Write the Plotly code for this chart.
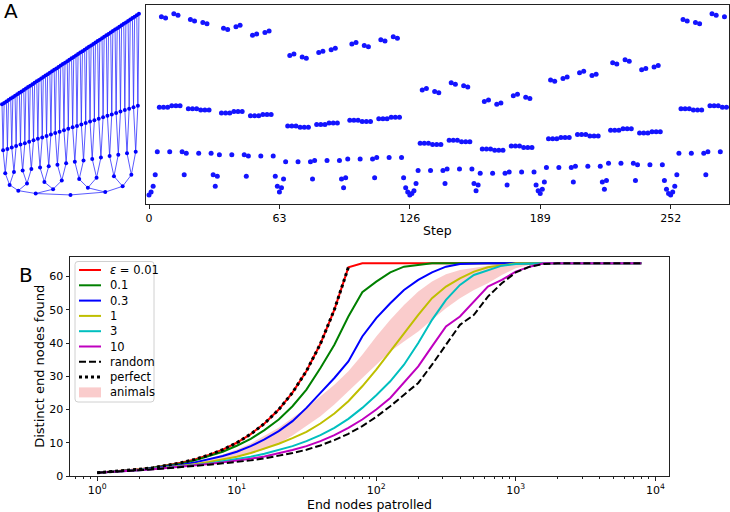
import plotly.graph_objects as go

# ----- PANEL A: binary tree (depth 6) and the patrol walk over it -----
depth = 6
# leaves (heap numbering: root = 1, leaves 64..127) in the order the walk reaches them
leaf_order = [125, 124, 127, 126, 123, 122, 121, 120,
              117, 116, 118, 119, 112, 113, 114, 115,
              98, 99, 97, 96, 100, 101, 102, 103,
              106, 107, 105, 104, 109, 108, 111, 110,
              74, 75, 73, 72, 79, 78, 77, 76,
              66, 67, 64, 65, 70, 71, 69, 68,
              81, 80, 82, 83, 86, 87, 84, 85,
              93, 92, 95, 94, 88, 89, 90, 91,
              123, 122, 121, 120, 127, 126, 125]
walk_end = 62
step_ticks = [0, 63, 126, 189, 252]

# ----- PANEL B: distinct end nodes found vs end nodes patrolled -----
x_patrolled = [1, 1.26, 1.58, 2.0, 2.51, 3.16, 3.98, 5.01, 6.31, 7.94,
               10.0, 12.6, 15.8, 20.0, 25.1, 31.6, 39.8, 50.1, 63.1, 79.4,
               100, 126, 158, 200, 251, 316, 398, 501, 631, 794,
               1000, 1259, 1585, 1995, 2512, 3162, 3981, 5012, 6310, 7943]

eps_labels = ["<i>ε</i> = 0.01", "0.1", "0.3", "1", "3", "10"]
eps_colors = ["#ff0000", "#008000", "#0000ff", "#bfbf00", "#00bfbf", "#bf00bf"]

found_eps_001 = [1, 1.26, 1.58, 2.0, 2.51, 3.16, 3.98, 5.01, 6.31, 7.94,
                 10.0, 12.6, 15.8, 20.0, 25.1, 31.6, 39.8, 50.1, 62.8, 64,
                 64, 64, 64, 64, 64, 64, 64, 64, 64, 64,
                 64, 64, 64, 64, 64, 64, 64, 64, 64, 64]
found_eps_01 = [1, 1.25, 1.56, 1.95, 2.45, 3.05, 3.8, 4.7, 5.9, 7.3,
                9.1, 11.2, 13.8, 17.0, 21.0, 26.0, 32.5, 39.5, 48.0, 55.3,
                58.5, 61.3, 63.0, 63.6, 64, 64, 64, 64, 64, 64,
                64, 64, 64, 64, 64, 64, 64, 64, 64, 64]
found_eps_03 = [1, 1.24, 1.53, 1.88, 2.3, 2.8, 3.4, 4.1, 4.95, 6.0,
                7.3, 9.0, 11.0, 13.5, 16.5, 20.5, 25.0, 29.5, 34.5, 42.0,
                47.5, 52.0, 56.0, 59.0, 61.3, 63.0, 63.8, 64, 64, 64,
                64, 64, 64, 64, 64, 64, 64, 64, 64, 64]
found_eps_1 = [1, 1.22, 1.5, 1.8, 2.15, 2.55, 3.0, 3.55, 4.2, 4.95,
               5.8, 6.9, 8.2, 9.7, 11.4, 13.3, 15.8, 18.8, 22.5, 27.0,
               32.0, 37.5, 43.0, 48.5, 53.5, 57.0, 59.5, 61.5, 62.8, 63.5,
               64, 64, 64, 64, 64, 64, 64, 64, 64, 64]
found_eps_3 = [1, 1.2, 1.45, 1.75, 2.1, 2.45, 2.85, 3.3, 3.8, 4.4,
               5.0, 5.8, 6.7, 7.8, 9.0, 10.5, 12.3, 14.5, 17.2, 20.5,
               24.3, 28.5, 33.5, 40.0, 47.0, 53.0, 57.5, 60.5, 62.0, 63.3,
               63.8, 64, 64, 64, 64, 64, 64, 64, 64, 64]
found_eps_10 = [1, 1.2, 1.45, 1.75, 2.05, 2.4, 2.75, 3.2, 3.6, 4.1,
                4.6, 5.2, 5.9, 6.8, 7.8, 9.0, 10.5, 12.3, 14.5, 17.0,
                20.0, 23.5, 28.0, 33.0, 39.0, 45.0, 48.0, 52.5, 57.0, 59.0,
                61.5, 63.0, 64, 64, 64, 64, 64, 64, 64, 64]
found_random = [1, 1.2, 1.45, 1.7, 2.0, 2.3, 2.6, 3.0, 3.4, 3.8,
                4.2, 4.7, 5.3, 6.0, 6.9, 7.9, 9.2, 10.8, 12.7, 15.0,
                17.8, 21.0, 24.5, 28.0, 33.5, 39.5, 45.5, 48.5, 54.0, 58.0,
                61.3, 63.0, 63.8, 64, 64, 64, 64, 64, 64, 64]
x_perfect = [1, 1.26, 1.58, 2.0, 2.51, 3.16, 3.98, 5.01, 6.31, 7.94,
             10.0, 12.6, 15.8, 20.0, 25.1, 31.6, 39.8, 50.1, 63.1]
found_perfect = [1, 1.26, 1.58, 2.0, 2.51, 3.16, 3.98, 5.01, 6.31, 7.94,
                 10.0, 12.6, 15.8, 20.0, 25.1, 31.6, 39.8, 50.1, 62.8]
animals_low = [1, 1.2, 1.45, 1.75, 2.1, 2.5, 2.9, 3.4, 4.1, 4.9,
               5.7, 6.7, 8.0, 9.8, 12.2, 15.0, 18.0, 21.5, 25.5, 29.5,
               33.5, 37.5, 40.5, 43.5, 47.0, 50.5, 53.5, 56.0, 58.0, 60.5,
               62.5, 63.6, 64, 64, 64, 64, 64, 64, 64, 64]
animals_high = [1, 1.24, 1.53, 1.9, 2.35, 2.9, 3.55, 4.35, 5.3, 6.5,
                8.0, 9.8, 12.0, 14.5, 17.5, 20.5, 24.0, 27.5, 31.5, 36.5,
                42.0, 47.0, 51.5, 55.5, 58.5, 60.7, 62.0, 62.7, 63.3, 63.8,
                64, 64, 64, 64, 64, 64, 64, 64, 64, 64]

eps_series = [found_eps_001, found_eps_01, found_eps_03, found_eps_1, found_eps_3, found_eps_10]

W, H = 730, 512
FONT = "DejaVu Sans"


def px(x):
    return x / W


def py(y):
    return 1 - y / H


# tree layout: leaves side by side, parents centred over children, height = heap index
n_leaf = 2 ** depth
node_x = {}
for n in range(n_leaf, 2 * n_leaf):
    node_x[n] = n - n_leaf
for n in range(n_leaf - 1, 0, -1):
    node_x[n] = (node_x[2 * n] + node_x[2 * n + 1]) / 2


def is_ancestor(a, b):
    while b > a:
        b //= 2
    return a == b


def path_between(u, v):
    up = []
    while not is_ancestor(u, v):
        u //= 2
        up.append(u)
    down = []
    while v != u:
        down.append(v)
        v //= 2
    return up + down[::-1]


walk = [1]
for leaf in leaf_order:
    walk += path_between(walk[-1], leaf)
walk += path_between(walk[-1], walk_end)

fig = go.Figure()

ex, ey = [], []
for n in range(2, 2 * n_leaf):
    ex += [node_x[n // 2], node_x[n], None]
    ey += [n // 2, n, None]
fig.add_trace(go.Scatter(x=ex, y=ey, mode="lines", line=dict(color="#3030ff", width=0.8),
                         xaxis="x", yaxis="y", hoverinfo="skip", cliponaxis=False))
nodes = list(range(1, 2 * n_leaf))
fig.add_trace(go.Scatter(x=[node_x[n] for n in nodes], y=nodes, mode="markers",
                         marker=dict(color="#0000ff", size=4), xaxis="x", yaxis="y",
                         cliponaxis=False))

fig.add_trace(go.Scatter(x=list(range(len(walk))), y=walk, mode="markers",
                         marker=dict(color="#1414ff", size=5), xaxis="x2", yaxis="y2"))

# panel B
fig.add_trace(go.Scatter(x=x_patrolled, y=animals_low, mode="lines", line=dict(width=0),
                         xaxis="x3", yaxis="y3"))
fig.add_trace(go.Scatter(x=x_patrolled, y=animals_high, mode="lines", line=dict(width=0),
                         fill="tonexty", fillcolor="rgba(246,170,170,0.6)",
                         xaxis="x3", yaxis="y3"))
for vals, col in zip(eps_series, eps_colors):
    fig.add_trace(go.Scatter(x=x_patrolled, y=vals, mode="lines",
                             line=dict(color=col, width=2), xaxis="x3", yaxis="y3"))
fig.add_trace(go.Scatter(x=x_patrolled, y=found_random, mode="lines",
                         line=dict(color="black", width=2, dash="7px,3px"), xaxis="x3", yaxis="y3"))
fig.add_trace(go.Scatter(x=x_perfect, y=found_perfect, mode="lines",
                         line=dict(color="black", width=3, dash="dot"), xaxis="x3", yaxis="y3"))

# legend drawn by hand so the rows keep the compact spacing of the original
legend_rows = [(lab, col, "solid") for lab, col in zip(eps_labels, eps_colors)]
legend_rows += [("random", "black", "7px,3px"), ("perfect", "black", "dot"), ("animals", None, None)]

shapes = []
annotations = []
bx0, bx1, by0, by1, r = 75, 154, 261.5, 402, 3
box_path = (f"M {px(bx0 + r)},{py(by0)} L {px(bx1 - r)},{py(by0)} "
            f"Q {px(bx1)},{py(by0)} {px(bx1)},{py(by0 + r)} L {px(bx1)},{py(by1 - r)} "
            f"Q {px(bx1)},{py(by1)} {px(bx1 - r)},{py(by1)} L {px(bx0 + r)},{py(by1)} "
            f"Q {px(bx0)},{py(by1)} {px(bx0)},{py(by1 - r)} L {px(bx0)},{py(by0 + r)} "
            f"Q {px(bx0)},{py(by0)} {px(bx0 + r)},{py(by0)} Z")
shapes.append(dict(type="path", xref="paper", yref="paper", path=box_path,
                   fillcolor="rgba(255,255,255,0.85)", line=dict(color="#d0d0d0", width=1)))
for i, (lab, col, dash) in enumerate(legend_rows):
    yc = 270 + 15.3 * i
    if col is None:
        shapes.append(dict(type="rect", xref="paper", yref="paper",
                           x0=px(79), x1=px(101), y0=py(yc - 5), y1=py(yc + 5),
                           fillcolor="rgba(246,170,170,0.6)", line=dict(width=0)))
    else:
        shapes.append(dict(type="line", xref="paper", yref="paper",
                           x0=px(79), x1=px(101), y0=py(yc), y1=py(yc),
                           line=dict(color=col, width=3 if dash == "dot" else 2, dash=dash)))
    annotations.append(dict(text=lab, xref="paper", yref="paper", x=px(108), y=py(yc),
                            xanchor="left", yanchor="middle", showarrow=False,
                            font=dict(size=11.5, family=FONT, color="black")))

annotations.append(dict(text="A", xref="paper", yref="paper", x=px(2), y=py(11),
                        xanchor="left", yanchor="middle", showarrow=False,
                        font=dict(size=20, family=FONT, color="black")))
annotations.append(dict(text="B", xref="paper", yref="paper", x=px(17), y=py(275),
                        xanchor="left", yanchor="middle", showarrow=False,
                        font=dict(size=20, family=FONT, color="black")))

frame = dict(showline=True, linecolor="#222222", linewidth=1, mirror=True,
             showgrid=False, zeroline=False, automargin=False)
tick = dict(ticks="outside", ticklen=3.5, tickwidth=1, tickcolor="#222222",
            tickfont=dict(size=11, family=FONT, color="black"))

minor_vals = [0.7, 0.8, 0.9] + [m * 10 ** e for e in range(4) for m in range(2, 10)]

fig.update_layout(
    width=W, height=H, margin=dict(l=0, r=0, t=0, b=0, autoexpand=False),
    plot_bgcolor="white", paper_bgcolor="white", showlegend=False,
    font=dict(family=FONT, size=11, color="black"),
    xaxis=dict(domain=[0, px(142)], range=[-0.92, 64.4], visible=False, anchor="y",
               automargin=False),
    yaxis=dict(domain=[py(204), py(4.7)], range=[-5.3, 133.3], visible=False, anchor="x",
               automargin=False),
    xaxis2=dict(domain=[px(145.7), px(729)], range=[-1.6, 280.2], anchor="y2",
                tickmode="array", tickvals=step_ticks,
                title=dict(text="Step", font=dict(size=12.5, family=FONT), standoff=2),
                **frame, **tick),
    yaxis2=dict(domain=[py(204), py(4.7)], range=[-5.3, 133.3], anchor="x2",
                showticklabels=False, ticks="", **frame),
    xaxis3=dict(type="log", domain=[px(70), px(669)], range=[-0.195, 4.098], anchor="y3",
                tickmode="array", tickvals=[1, 10, 100, 1000, 10000],
                ticktext=["10<sup>0</sup>", "10<sup>1</sup>", "10<sup>2</sup>",
                          "10<sup>3</sup>", "10<sup>4</sup>"],
                minor=dict(ticks="outside", ticklen=2, tickwidth=0.8, tickcolor="#222222",
                           tickmode="array", tickvals=minor_vals),
                title=dict(text="End nodes patrolled", font=dict(size=12.5, family=FONT), standoff=2),
                **frame, **tick),
    yaxis3=dict(domain=[py(476), py(256.7)], range=[0, 66], anchor="x3",
                tickmode="array", tickvals=[0, 10, 20, 30, 40, 50, 60],
                title=dict(text="Distinct end nodes found", font=dict(size=13, family=FONT), standoff=1),
                **frame, **tick),
    shapes=shapes,
    annotations=annotations,
)

# the page's default 8px body margin would push the figure off its 730x512 window
fig.write_html("out.html", config={"displayModeBar": False},
               post_script="document.body.style.margin = '0px';")
